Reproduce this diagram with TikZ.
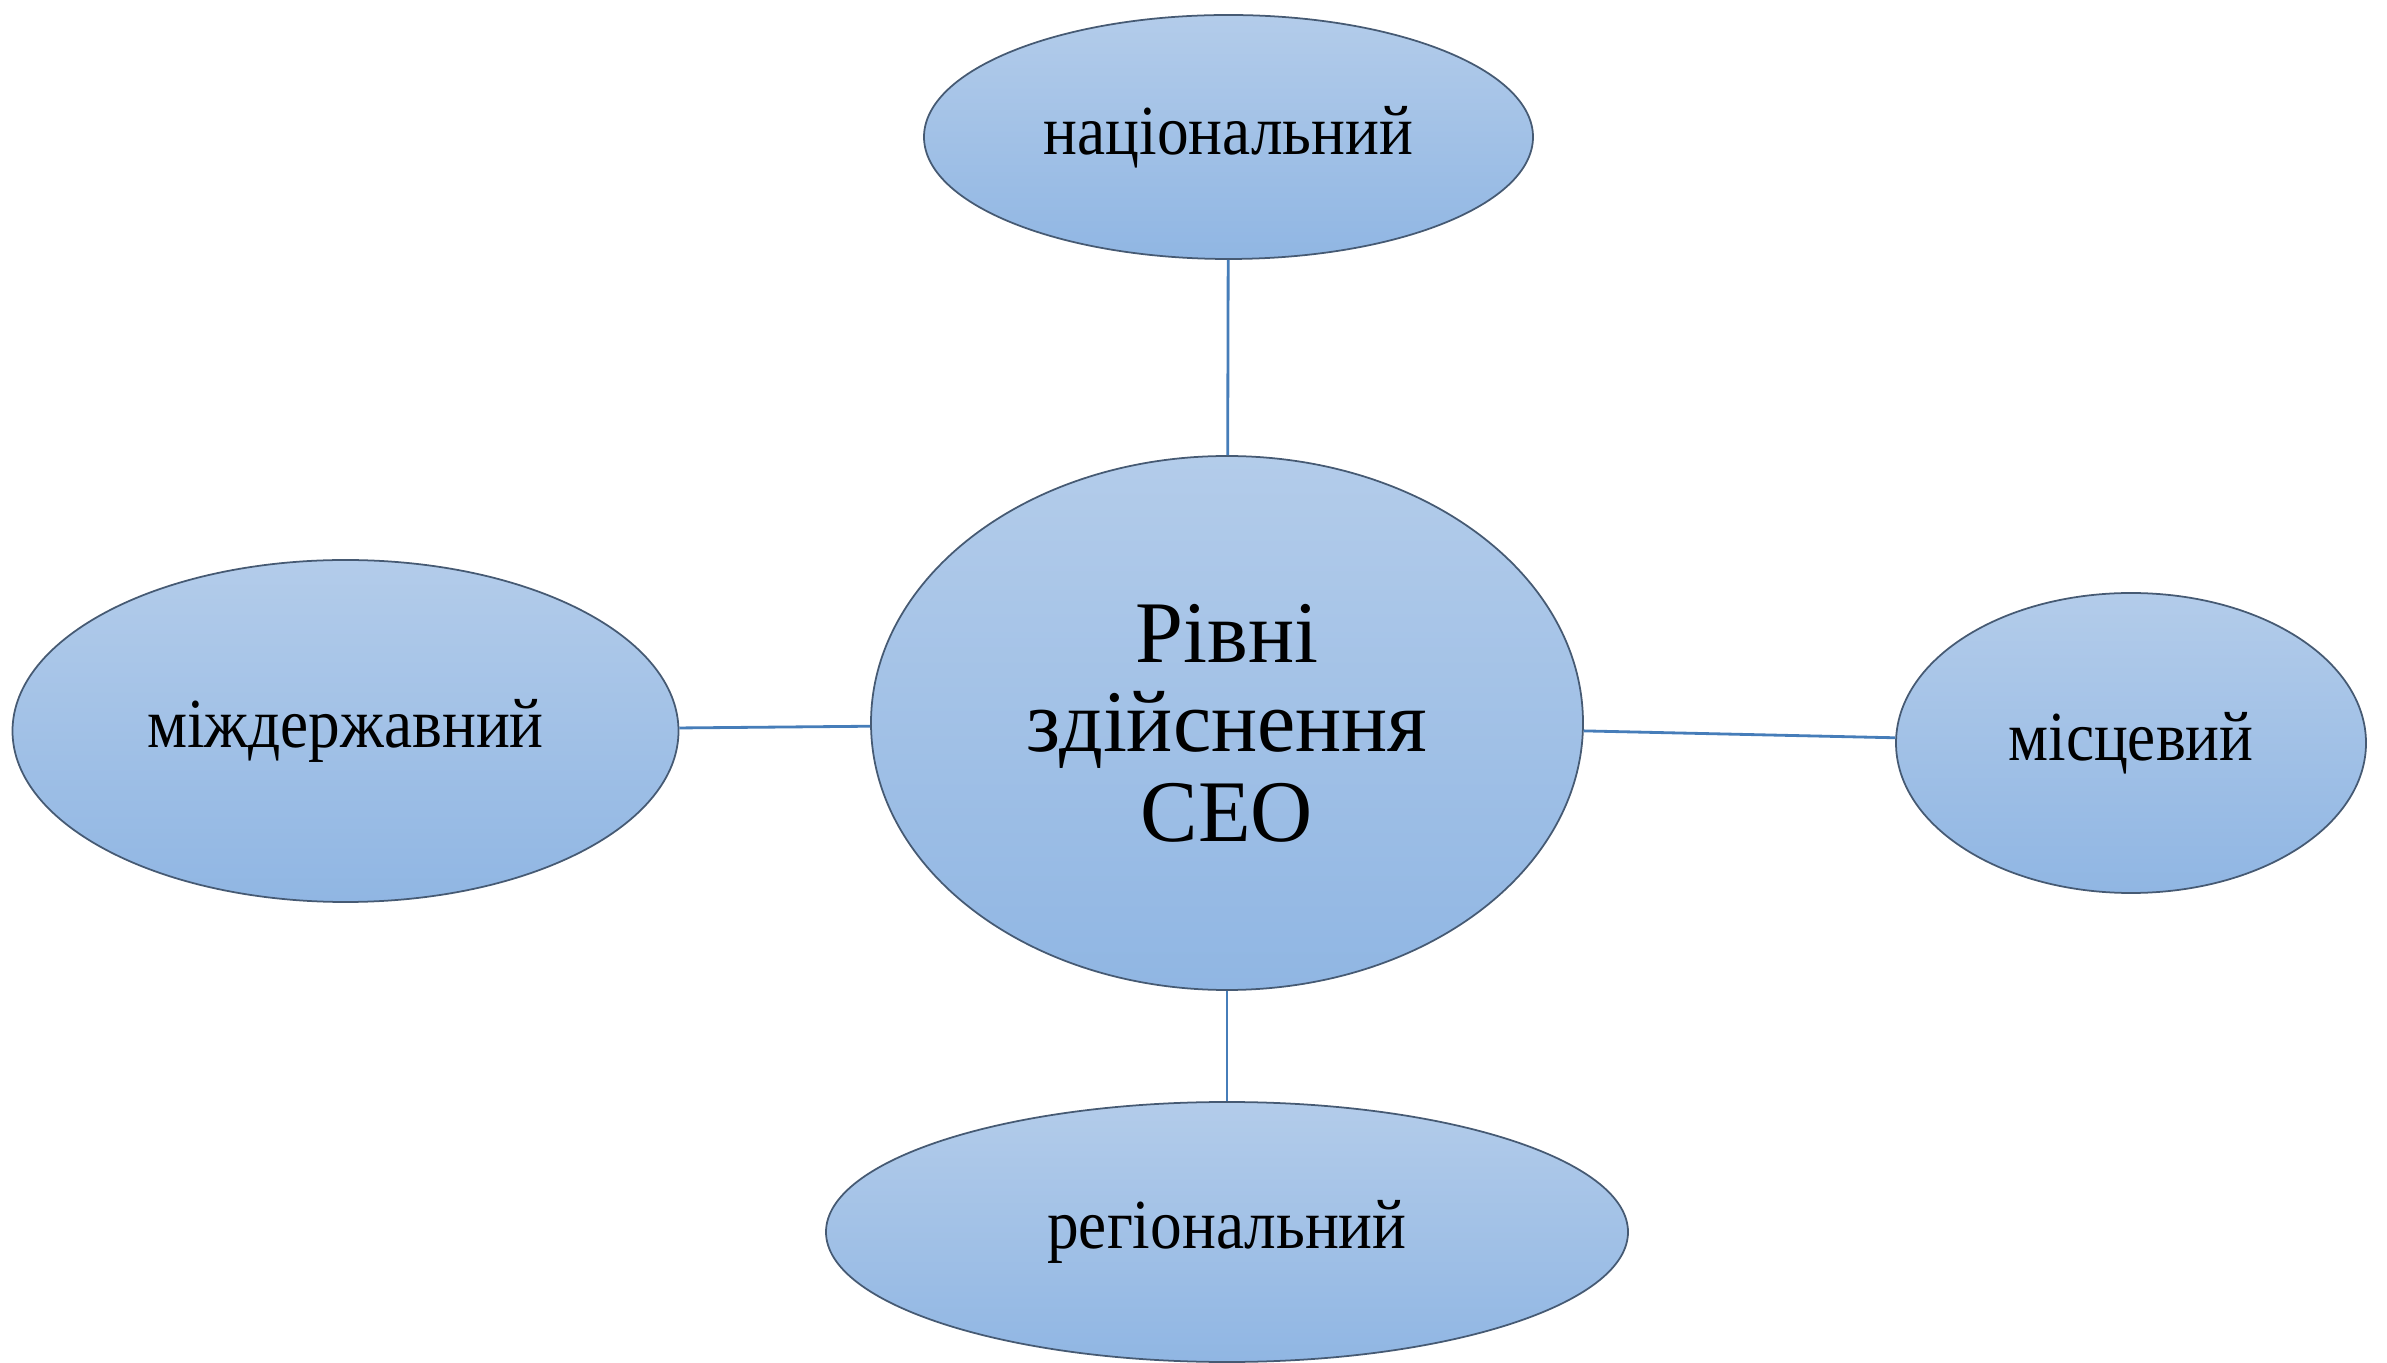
\documentclass[tikz,border=0pt]{standalone}
\usepackage{fontspec}
\setmainfont{Liberation Serif}[FakeStretch=0.9]
\newfontfamily\corefont{Liberation Serif}[FakeStretch=0.98]
\usetikzlibrary{shapes.geometric}
\definecolor{lvltop}{RGB}{179,204,234}
\definecolor{lvlbot}{RGB}{144,182,227}
\definecolor{lvledge}{RGB}{70,90,115}
\definecolor{lvlline}{RGB}{70,125,185}

\begin{document}
\begin{tikzpicture}[lvl/.style={ellipse, draw=lvledge, line width=.5pt, top color=lvltop, bottom color=lvlbot, inner sep=0pt, font=\fontsize{20}{24}\selectfont},link/.style={draw=lvlline, line width=.8pt}]
  \useasboundingbox (0,0) rectangle (23.87,13.62);

  \node[lvl, minimum width=7.12cm, minimum height=5.34cm, align=center, font=\corefont\fontsize{25}{25.5}\selectfont] (rivni) at (12.27,6.39) {Рівні\\здійснення\\СЕО};

  \node[lvl, minimum width=6.09cm, minimum height=2.44cm] (nats) at (12.285,12.25) {національний};
  \node[lvl, minimum width=6.66cm, minimum height=3.42cm] (mizh) at (3.455,6.31) {міждержавний};
  \node[lvl, minimum width=4.70cm, minimum height=3.00cm] (mists) at (21.31,6.19) {місцевий};
  \node[lvl, minimum width=8.02cm, minimum height=2.60cm] (reg) at (12.27,1.30) {регіональний};

  \draw[link] (nats) -- (rivni);
  \draw[link] (mizh) -- (rivni);
  \draw[link] (rivni) -- (mists);
  \draw[link] (rivni) -- (reg);
\end{tikzpicture}
\end{document}
